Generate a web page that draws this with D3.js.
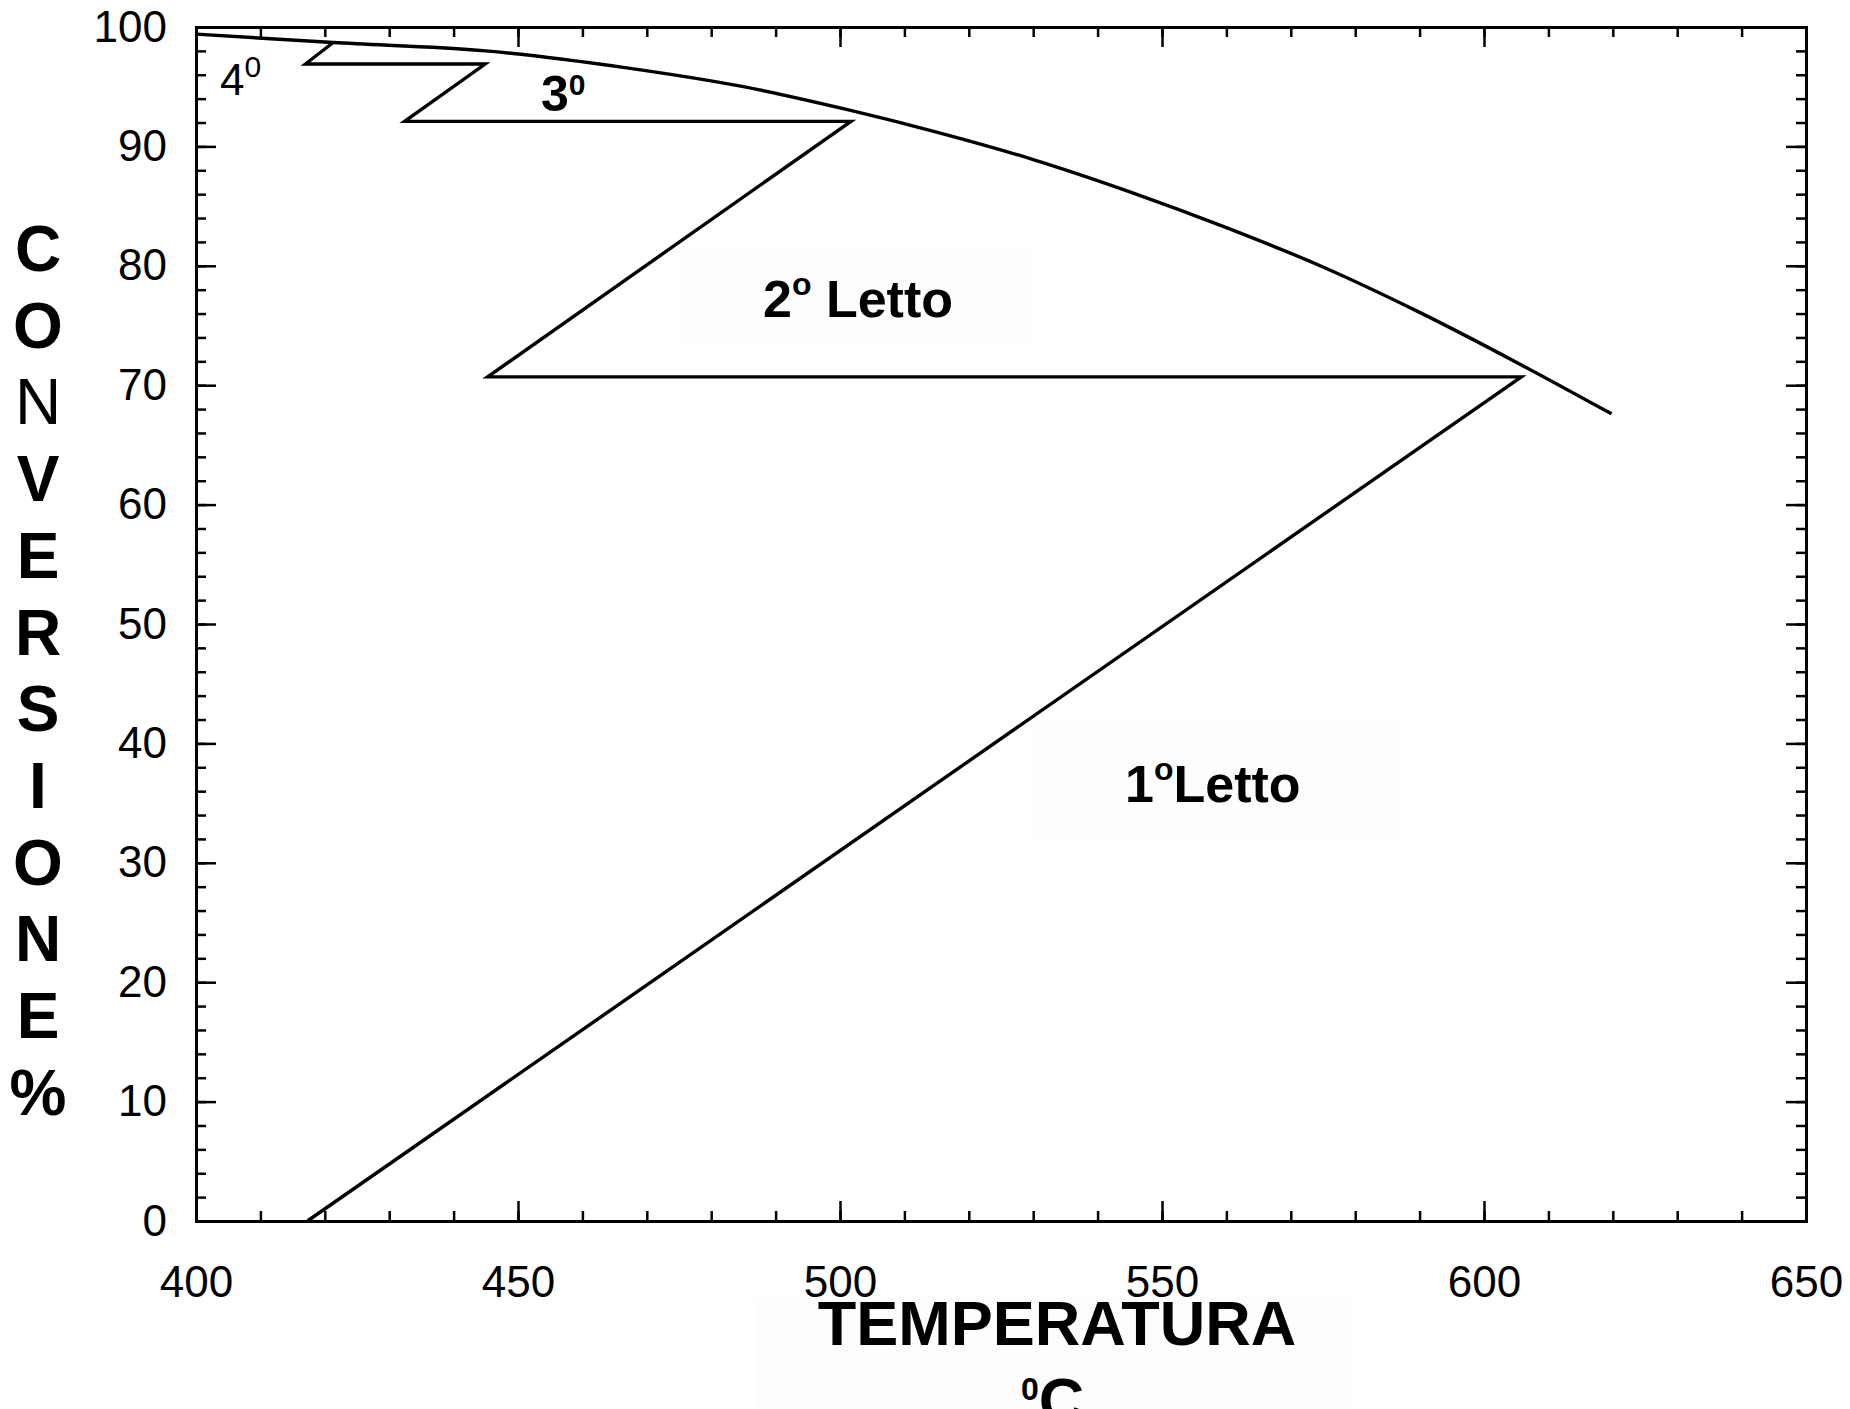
<!DOCTYPE html>
<html>
<head>
<meta charset="utf-8">
<script src="https://cdn.jsdelivr.net/npm/d3@7"></script>
<style>
  body { margin: 0; background: #fff; }
  svg { display: block; font-family: "Liberation Sans", Arial, sans-serif; }
</style>
</head>
<body>
<script>
// equilibrium curve (temperatura, conversione %)
var eqT = [400, 421.3, 445, 466.6, 485, 501, 515, 530, 545, 560, 575, 590, 605.8, 619.8];
var eqC = [99.4, 98.7, 98.0, 96.6, 95.0, 93.1, 91.2, 88.9, 86.2, 83.2, 79.9, 76.1, 71.7, 67.6];

// adiabatic beds + intercooling steps
var stairT = [417.3, 605.8, 445.3, 501.7, 432.4, 444.9, 417.0, 421.3];
var stairC = [0, 70.7, 70.7, 92.1, 92.1, 96.9, 96.9, 98.7];

var xMajor = [400, 450, 500, 550, 600, 650],
    xMinor = d3.range(400, 651, 10),
    yMajor = d3.range(0, 101, 10),
    yMinor = d3.range(0, 101, 2);

var titleLetters = "CONVERSIONE%".split("");

var width = 1850, height = 1409;
var x = d3.scaleLinear().domain([400, 650]).range([196, 1806]);
var y = d3.scaleLinear().domain([0, 100]).range([1221, 27]);

var svg = d3.select("body").append("svg")
    .attr("width", width)
    .attr("height", height);

svg.append("rect").attr("width", width).attr("height", height).attr("fill", "#fff");

// faint patches behind the pasted labels
svg.append("rect").attr("x", 682).attr("y", 250).attr("width", 350).attr("height", 95).attr("fill", "#fdfdfd");
svg.append("rect").attr("x", 1030).attr("y", 720).attr("width", 368).attr("height", 122).attr("fill", "#fdfdfd");
svg.append("rect").attr("x", 755).attr("y", 1298).attr("width", 596).attr("height", 111).attr("fill", "#fdfdfd");

function styleAxis(g) {
    g.selectAll("path.domain").attr("stroke", "#000").attr("stroke-width", 3).attr("stroke-linecap", "square");
    g.selectAll(".tick line").attr("stroke", "#000").attr("stroke-width", 2.5);
    g.selectAll(".tick text").attr("fill", "#000").style("font-size", "44px")
        .style("font-family", "'Liberation Sans', Arial, sans-serif");
}

// bottom
svg.append("g").attr("transform", "translate(0,1221)")
    .call(d3.axisBottom(x).tickValues(xMinor).tickSize(-10).tickSizeOuter(0).tickFormat(""))
    .call(styleAxis);
svg.append("g").attr("transform", "translate(0,1221)")
    .call(d3.axisBottom(x).tickValues(xMajor).tickSize(-20).tickSizeOuter(0).tickPadding(45))
    .call(styleAxis);
// top
svg.append("g").attr("transform", "translate(0,27)")
    .call(d3.axisTop(x).tickValues(xMinor).tickSize(-10).tickSizeOuter(0).tickFormat(""))
    .call(styleAxis);
svg.append("g").attr("transform", "translate(0,27)")
    .call(d3.axisTop(x).tickValues(xMajor).tickSize(-20).tickSizeOuter(0).tickFormat(""))
    .call(styleAxis);
// left
svg.append("g").attr("transform", "translate(196,0)")
    .call(d3.axisLeft(y).tickValues(yMinor).tickSize(-10).tickSizeOuter(0).tickFormat(""))
    .call(styleAxis);
svg.append("g").attr("transform", "translate(196,0)")
    .call(d3.axisLeft(y).tickValues(yMajor).tickSize(-20).tickSizeOuter(0).tickPadding(29))
    .call(styleAxis);
// right
svg.append("g").attr("transform", "translate(1806,0)")
    .call(d3.axisRight(y).tickValues(yMinor).tickSize(-10).tickSizeOuter(0).tickFormat(""))
    .call(styleAxis);
svg.append("g").attr("transform", "translate(1806,0)")
    .call(d3.axisRight(y).tickValues(yMajor).tickSize(-20).tickSizeOuter(0).tickFormat(""))
    .call(styleAxis);

// equilibrium curve
var eq = eqT.map(function (t, i) { return [t, eqC[i]]; });
svg.append("path")
    .datum(eq)
    .attr("fill", "none")
    .attr("stroke", "#000")
    .attr("stroke-width", 3.4)
    .attr("d", d3.line().x(function (d) { return x(d[0]); }).y(function (d) { return y(d[1]); })
        .curve(d3.curveMonotoneX));

// operating line
var stair = stairT.map(function (t, i) { return [t, stairC[i]]; });
svg.append("path")
    .datum(stair)
    .attr("fill", "none")
    .attr("stroke", "#000")
    .attr("stroke-width", 3.4)
    .attr("stroke-linejoin", "miter")
    .attr("d", d3.line().x(function (d) { return x(d[0]); }).y(function (d) { return y(d[1]); }));

// bed labels
var t4 = svg.append("text").attr("x", 220).attr("y", 95).style("font-size", "44px");
t4.append("tspan").text("4");
t4.append("tspan").attr("dy", -18).style("font-size", "30px").text("0");

var t3 = svg.append("text").attr("x", 541).attr("y", 111).style("font-size", "50px").style("font-weight", "bold");
t3.append("tspan").text("3");
t3.append("tspan").attr("dy", -16).style("font-size", "30px").text("0");

var t2 = svg.append("text").attr("x", 763).attr("y", 317).style("font-size", "52px").style("font-weight", "bold");
t2.append("tspan").text("2");
t2.append("tspan").attr("dy", -22).style("font-size", "32px").text("o");
t2.append("tspan").attr("dy", 22).text(" Letto");

var t1 = svg.append("text").attr("x", 1125).attr("y", 802).style("font-size", "52px").style("font-weight", "bold");
t1.append("tspan").text("1");
t1.append("tspan").attr("dy", -22).style("font-size", "32px").text("o");
t1.append("tspan").attr("dy", 22).text("Letto");

// axis titles
svg.append("text")
    .attr("x", 1057).attr("y", 1345)
    .attr("text-anchor", "middle")
    .style("font-size", "63px").style("font-weight", "bold")
    .text("TEMPERATURA");

var tc = svg.append("text").style("font-weight", "bold");
tc.append("tspan").attr("x", 1021).attr("y", 1400).style("font-size", "32px").text("0");
tc.append("tspan").attr("y", 1422).style("font-size", "63px").text("C");

svg.selectAll(".ylet")
    .data(titleLetters)
    .enter().append("text")
    .attr("class", "ylet")
    .attr("x", 38)
    .attr("y", function (d, i) { return 248 + i * 76.7 + 23; })
    .attr("text-anchor", "middle")
    .style("font-size", "64px")
    .style("font-weight", function (d, i) { return i === 2 ? "normal" : "bold"; })
    .text(function (d) { return d; });
</script>
</body>
</html>
